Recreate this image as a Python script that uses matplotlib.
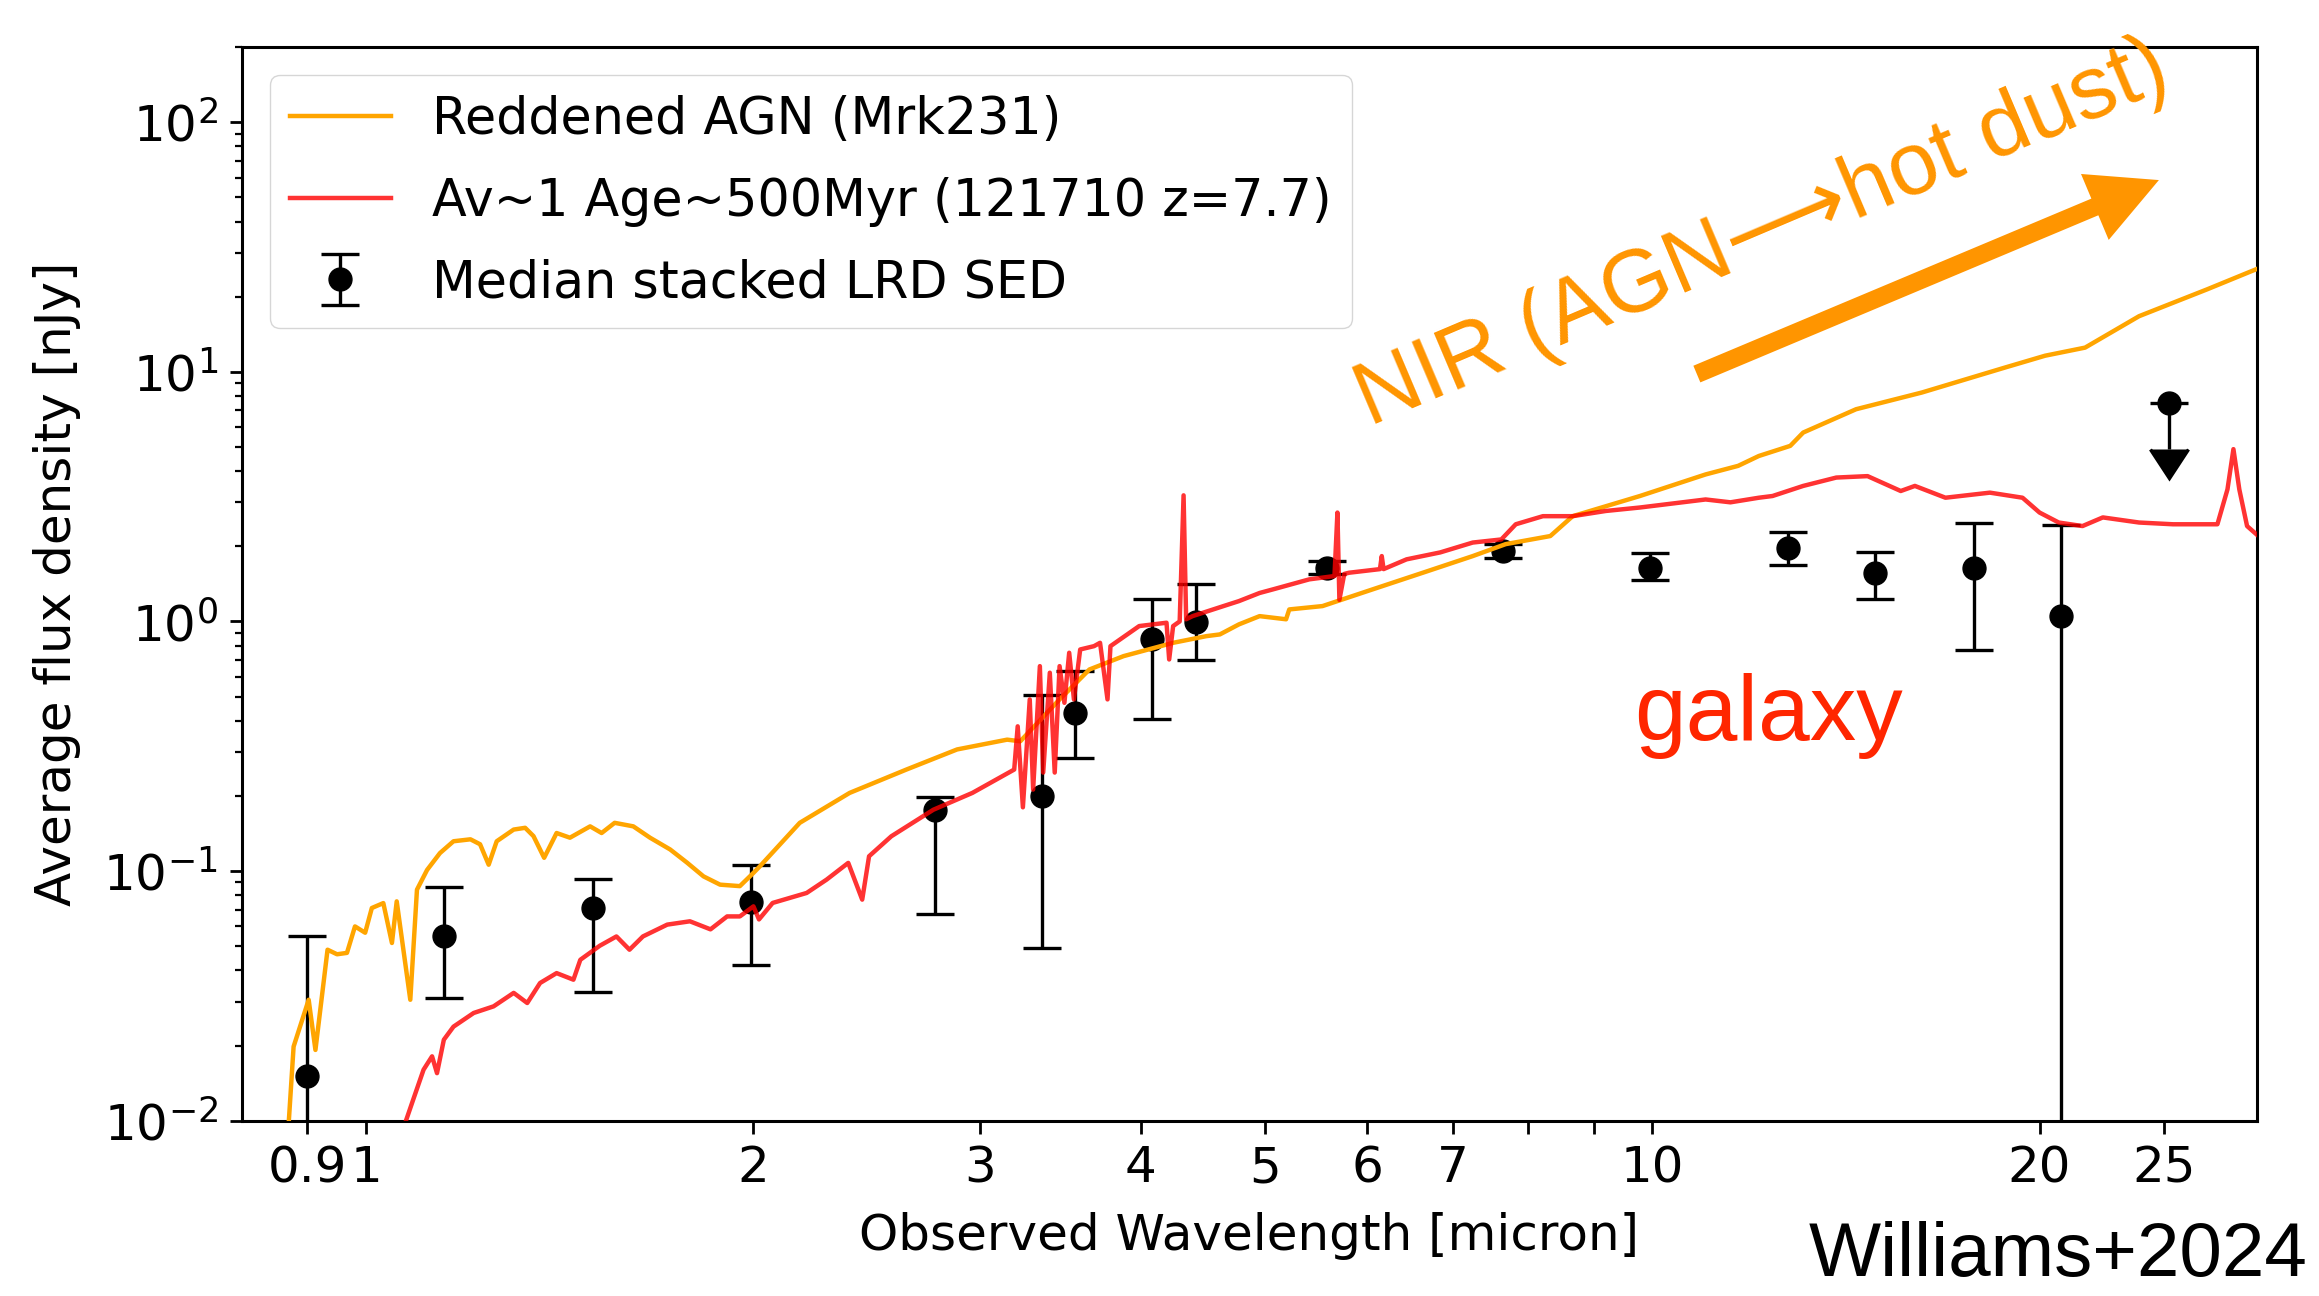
import numpy as np
import matplotlib
matplotlib.use("Agg")
import matplotlib.pyplot as plt
from matplotlib.ticker import NullLocator

# --------------------

# Median stacked LRD photometry (last point is an upper limit)
phot_wave = [0.90, 1.15, 1.50, 1.99, 2.77, 3.35, 3.56, 4.08, 4.42, 5.58, 7.65, 9.95, 12.75, 14.9, 17.8, 20.8, 25.2]
phot_flux = [0.0151, 0.0547, 0.0711, 0.0749, 0.176, 0.199, 0.428, 0.847, 0.994, 1.64, 1.91, 1.64, 1.975, 1.57, 1.64, 1.05, 7.53]
phot_lo = [0.001, 0.031, 0.0328, 0.0421, 0.0675, 0.0491, 0.284, 0.407, 0.70, 1.55, 1.80, 1.465, 1.677, 1.233, 0.766, 0.001, 4.90]
phot_hi = [0.0547, 0.0863, 0.0932, 0.106, 0.198, 0.505, 0.632, 1.233, 1.41, 1.745, 2.035, 1.874, 2.28, 1.897, 2.47, 2.43, 7.53]
phot_uplim = [False] * 16 + [True]

# Reddened AGN template (Mrk231)
agn_wave = [0.87, 0.878, 0.902, 0.913, 0.933, 0.949, 0.966, 0.980, 0.998, 1.010, 1.031, 1.047, 1.056,
            1.082, 1.095, 1.115, 1.141, 1.169, 1.205, 1.226, 1.245, 1.263, 1.302, 1.329, 1.349, 1.375,
            1.406, 1.440, 1.493, 1.524, 1.560, 1.613, 1.662, 1.723, 1.776, 1.829, 1.884, 1.952, 2.0,
            2.023, 2.173, 2.376, 2.63, 2.88, 3.15, 3.225, 3.46, 3.65, 3.88, 4.24, 4.50, 4.61, 4.77,
            4.95, 5.19, 5.22, 5.54, 6.06, 6.63, 7.25, 7.69, 8.33, 8.67, 9.78, 11.0, 11.66, 12.1, 12.8,
            13.1, 14.4, 16.2, 18.8, 20.2, 21.7, 23.9, 27.0, 29.5]
agn_flux = [0.0095, 0.0198, 0.0305, 0.0192, 0.0484, 0.0464, 0.047, 0.060, 0.0566, 0.0711, 0.0744, 0.0515, 0.0756,
            0.0305, 0.0842, 0.101, 0.118, 0.1316, 0.134, 0.128, 0.106, 0.1316, 0.1466, 0.149, 0.138, 0.113,
            0.142, 0.136, 0.151, 0.142, 0.156, 0.151, 0.136, 0.122, 0.108, 0.0952, 0.0882, 0.087, 0.0983,
            0.1044, 0.156, 0.2056, 0.255, 0.307, 0.336, 0.331, 0.487, 0.642, 0.726, 0.821, 0.873, 0.887, 0.973,
            1.05, 1.02, 1.117, 1.152, 1.344, 1.567, 1.827, 2.04, 2.198, 2.64, 3.18, 3.88, 4.2, 4.60, 5.05,
            5.71, 7.08, 8.26, 10.4, 11.6, 12.5, 16.7, 21.4, 25.8]

# Galaxy template: Av~1, age~500 Myr
gal_wave = [1.07, 1.088, 1.108, 1.125, 1.135, 1.149, 1.169, 1.212, 1.256, 1.302, 1.334, 1.365, 1.406,
            1.449, 1.467, 1.519, 1.565, 1.602, 1.641, 1.714, 1.785, 1.852, 1.908, 1.952, 2.00, 2.02,
            2.07, 2.20, 2.28, 2.37, 2.43, 2.46, 2.56, 2.76, 2.96, 3.19, 3.21, 3.24, 3.28, 3.30, 3.34,
            3.36, 3.40, 3.43, 3.46, 3.49, 3.52, 3.55, 3.59, 3.68, 3.72, 3.77, 3.79, 3.99, 4.19, 4.21,
            4.24, 4.29, 4.32, 4.34, 4.39, 4.64, 4.77, 4.95, 5.07, 5.41, 5.66, 5.69, 5.71, 5.76, 5.81,
            6.14, 6.16, 6.18, 6.44, 6.84, 7.25, 7.63, 7.83, 8.22, 8.67, 9.20, 9.78, 11.0, 11.5, 12.1,
            12.4, 13.1, 13.9, 14.7, 15.6, 16.0, 16.9, 18.3, 19.4, 20.0, 20.7, 21.6, 22.4, 23.9, 25.4,
            27.5, 28.0, 28.3, 28.6, 29.0, 29.5]
gal_flux = [0.0095, 0.0122, 0.016, 0.0181, 0.0155, 0.0211, 0.0238, 0.027, 0.0287, 0.0325, 0.0296, 0.0356, 0.039,
            0.0367, 0.0441, 0.0502, 0.0547, 0.0484, 0.0547, 0.061, 0.0629, 0.0584, 0.0658, 0.0658, 0.0722, 0.064,
            0.0745, 0.0817, 0.0924, 0.1078, 0.0768, 0.1146, 0.1378, 0.176, 0.2056, 0.255, 0.38, 0.18, 0.487, 0.212, 0.662,
            0.248, 0.623, 0.248, 0.662, 0.472, 0.749, 0.487, 0.772, 0.796, 0.821, 0.487, 0.796, 0.958, 0.988, 0.704,
            0.958, 1.0, 3.2, 1.02, 1.05, 1.152, 1.206, 1.30, 1.344, 1.474, 1.52, 2.73, 1.22, 1.55, 1.567,
            1.62, 1.827, 1.62, 1.773, 1.89, 2.07, 2.13, 2.45, 2.64, 2.64, 2.77, 2.86, 3.08, 3.0, 3.13,
            3.18, 3.49, 3.77, 3.82, 3.33, 3.49, 3.13, 3.28, 3.13, 2.73, 2.49, 2.41, 2.61, 2.49, 2.45,
            2.45, 3.38, 4.90, 3.38, 2.41, 2.23]

xtick_vals = [0.9, 1, 2, 3, 4, 5, 6, 7, 8, 9, 10, 20, 25]
xtick_labels = ["0.9", "1", "2", "3", "4", "5", "6", "7", "", "", "10", "20", "25"]

# --------------------

plt.rcParams["font.size"] = 36

fig = plt.figure(figsize = (23.19, 12.96), dpi = 100)
ax = fig.add_axes([0.1042, 0.1353, 0.8689, 0.8284])

flux = np.array(phot_flux)
yerr = [flux - np.array(phot_lo), np.array(phot_hi) - flux]
ax.errorbar(phot_wave, phot_flux, yerr = yerr, uplims = phot_uplim, fmt = "o", color = "black",
            ms = 16.5, elinewidth = 2.4, capsize = 14, capthick = 2.4,
            label = "Median stacked LRD SED", zorder = 2)
ax.plot(agn_wave, agn_flux, color = "orange", linewidth = 3.2, label = "Reddened AGN (Mrk231)", zorder = 3)
ax.plot(gal_wave, gal_flux, color = "red", alpha = 0.8, linewidth = 3.2,
        label = "Av~1 Age~500Myr (121710 z=7.7)", zorder = 4)

ax.set_xscale("log")
ax.set_yscale("log")
ax.set_xlim(0.8, 29.5)
ax.set_ylim(0.01, 200)
ax.set_xticks(xtick_vals, xtick_labels)
ax.xaxis.set_minor_locator(NullLocator())
ax.tick_params(which = "major", length = 9, width = 2, pad = 8)
ax.tick_params(which = "minor", length = 5, width = 1.6)
for spine in ax.spines.values():
    spine.set_linewidth(2.2)

ax.set_xlabel("Observed Wavelength [micron]", labelpad = 14)
ax.set_ylabel("Average flux density [nJy]", labelpad = 16)
ax.legend(loc = "upper left", fontsize = 36.5, labelspacing = 0.62, borderaxespad = 0.55)

# annotations
arial = ["Liberation Sans", "DejaVu Sans"]
ax.text(0.755, 0.825, "NIR (AGN\u27f6hot dust)", transform = ax.transAxes, rotation = 23,
        ha = "center", va = "center", fontsize = 64, color = "#ff9500", family = arial)
ax.annotate("", xy = (0.9515, 0.8761), xytext = (0.7222, 0.6954), xycoords = "axes fraction",
            arrowprops = dict(arrowstyle = "simple,head_length=5.0,head_width=5.15,tail_width=1.3",
                              mutation_scale = 10, color = "#ff9500", lw = 0, shrinkA = 0, shrinkB = 0))
ax.text(0.7577, 0.355, "galaxy", transform = ax.transAxes, ha = "center", va = "baseline",
        fontsize = 67, color = "#ff2600", family = arial)
fig.text(0.995, 0.003, "Williams+2024", ha = "right", va = "bottom", fontsize = 55, family = arial)

plt.savefig("out.png", dpi = 100)
